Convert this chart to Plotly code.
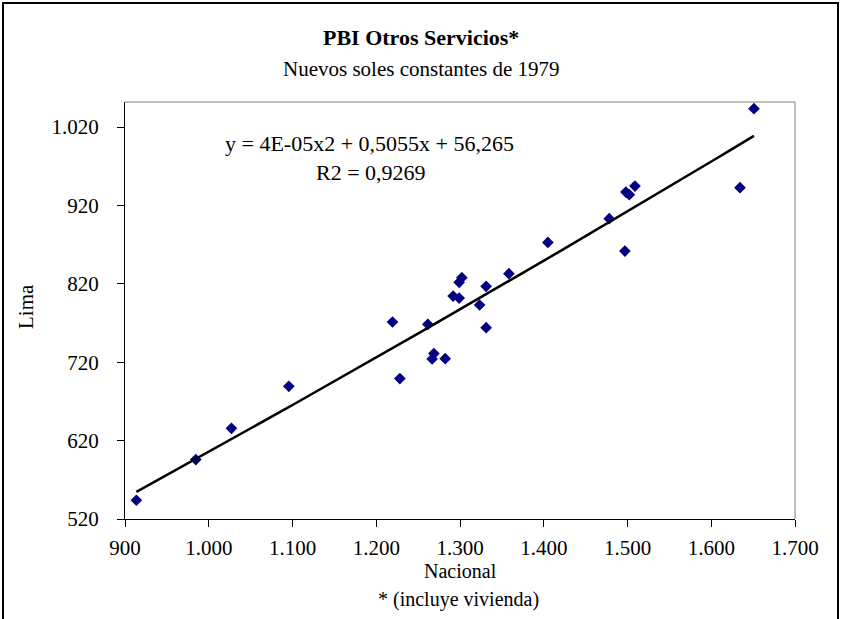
import numpy as np
import plotly.graph_objects as go

# PBI Otros Servicios: Nacional (x) vs Lima (y), nuevos soles constantes de 1979
nacional = [913.6, 984.5, 1027.1, 1095.6, 1219.4, 1228.2, 1261.6, 1268.8, 1266.7,
            1282.3, 1291.8, 1299.0, 1302.2, 1299.0, 1323.4, 1331.2, 1331.2, 1358.4,
            1404.9, 1478.2, 1498.1, 1502.1, 1508.9, 1496.9, 1634.3, 1651.0]
lima = [543.9, 595.8, 635.7, 689.3, 771.3, 699.1, 768.3, 731.0, 724.1,
        724.6, 804.4, 801.9, 827.9, 821.9, 793.0, 816.8, 764.1, 833.0,
        872.9, 903.2, 937.1, 933.8, 944.7, 861.8, 942.7, 1043.5]

x_tickvals = [900, 1000, 1100, 1200, 1300, 1400, 1500, 1600, 1700]
x_ticktext = ["900", "1.000", "1.100", "1.200", "1.300", "1.400", "1.500", "1.600", "1.700"]
y_tickvals = [520, 620, 720, 820, 920, 1020]
y_ticktext = ["520", "620", "720", "820", "920", "1.020"]

equation_text = "y = 4E-05x2 + 0,5055x + 56,265"
r2_text = "R2 = 0,9269"

# second-order polynomial trendline over the observed range
coef = np.polyfit(nacional, lima, 2)
xs = np.linspace(min(nacional), max(nacional), 120)
ys = np.polyval(coef, xs)

W, H = 841, 619
L, R, T, B = 125, 46, 102, 100
PW, PH = W - L - R, H - T - B


def px_x(px):
    return (px - L) / PW


def px_y(py):
    return (H - B - py) / PH


FONT = "Liberation Serif, Times New Roman, serif"

fig = go.Figure()
fig.add_trace(go.Scatter(
    x=nacional, y=lima, mode="markers",
    marker=dict(symbol="diamond", size=9, color="#000080",
                line=dict(width=0)),
    showlegend=False, hoverinfo="x+y"))
fig.add_trace(go.Scatter(
    x=xs, y=ys, mode="lines",
    line=dict(color="black", width=2.5),
    showlegend=False, hoverinfo="skip"))

fig.update_xaxes(range=[900, 1700], tickvals=x_tickvals, ticktext=x_ticktext,
                 showgrid=False, zeroline=False, showline=True,
                 linecolor="black", linewidth=1, ticks="outside", ticklen=7,
                 tickcolor="black", tickwidth=1, ticklabelstandoff=3,
                 tickfont=dict(family=FONT, size=21, color="black"))
fig.update_yaxes(range=[520, 1052], tickvals=y_tickvals, ticktext=y_ticktext,
                 showgrid=False, zeroline=False, showline=True,
                 linecolor="black", linewidth=1, ticks="outside", ticklen=7,
                 tickcolor="black", tickwidth=1, ticklabelstandoff=14,
                 tickfont=dict(family=FONT, size=21, color="black"))

shapes = [
    # gray top and right edges of the plot area
    dict(type="line", xref="paper", yref="paper", x0=0, x1=1, y0=1, y1=1,
         line=dict(color="#808080", width=1)),
    dict(type="line", xref="paper", yref="paper", x0=1, x1=1, y0=0, y1=1,
         line=dict(color="#808080", width=1)),
    # outer chart frame
    dict(type="rect", xref="paper", yref="paper",
         x0=px_x(3), x1=px_x(838), y0=px_y(640), y1=px_y(3),
         line=dict(color="black", width=2), fillcolor="rgba(0,0,0,0)"),
]

annotations = [
    dict(text="<b>PBI Otros Servicios*</b>", x=px_x(421), y=px_y(37),
         font=dict(family=FONT, size=22, color="black")),
    dict(text="Nuevos soles constantes de 1979", x=px_x(420.5), y=px_y(69),
         font=dict(family=FONT, size=21, color="black")),
    dict(text=equation_text, x=px_x(369), y=px_y(143),
         font=dict(family=FONT, size=22, color="black")),
    dict(text=r2_text, x=px_x(371), y=px_y(172),
         font=dict(family=FONT, size=22, color="black")),
    dict(text="Nacional", x=px_x(460), y=px_y(571),
         font=dict(family=FONT, size=20, color="black")),
    dict(text="* (incluye vivienda)", x=px_x(458), y=px_y(599),
         font=dict(family=FONT, size=20, color="black")),
    dict(text="Lima", x=px_x(26), y=px_y(307), textangle=-90,
         font=dict(family=FONT, size=21, color="black")),
]
for a in annotations:
    a.update(xref="paper", yref="paper", showarrow=False,
             xanchor="center", yanchor="middle")

fig.update_layout(
    width=W, height=H,
    margin=dict(l=L, r=R, t=T, b=B),
    paper_bgcolor="white", plot_bgcolor="white",
    shapes=shapes, annotations=annotations,
)

fig.write_html("out.html")
